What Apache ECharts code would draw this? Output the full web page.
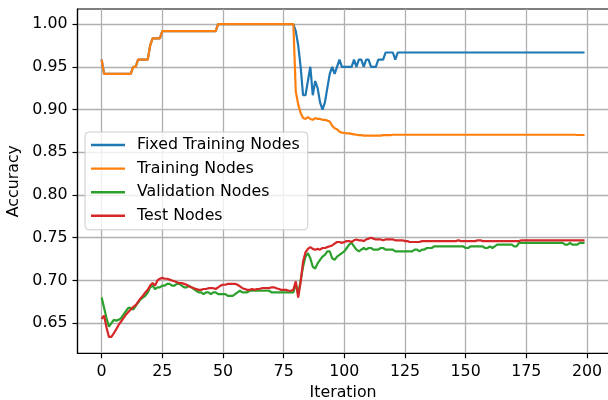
<!DOCTYPE html>
<html>
<head>
<meta charset="utf-8">
<script src="https://cdn.jsdelivr.net/npm/echarts@6/dist/echarts.min.js"></script>
<style>
  html, body { margin: 0; padding: 0; background: #fff; }
  #chart { width: 608px; height: 400px; }
</style>
</head>
<body>
<div id="chart"></div>
<script>
// accuracy per iteration
const fixedTrain = [
  0.9583, 0.9417, 0.9417, 0.9417, 0.9417, 0.9417, 0.9417, 0.9417, 0.9417, 0.9417, 0.9417, 0.9417, 0.9417, 0.95, 0.95, 0.9583, 0.9583, 0.9583, 0.9583, 0.9583,
  0.975, 0.9833, 0.9833, 0.9833, 0.9833, 0.9917, 0.9917, 0.9917, 0.9917, 0.9917, 0.9917, 0.9917, 0.9917, 0.9917, 0.9917, 0.9917, 0.9917, 0.9917, 0.9917, 0.9917,
  0.9917, 0.9917, 0.9917, 0.9917, 0.9917, 0.9917, 0.9917, 0.9917, 1, 1, 1, 1, 1, 1, 1, 1, 1, 1, 1, 1,
  1, 1, 1, 1, 1, 1, 1, 1, 1, 1, 1, 1, 1, 1, 1, 1, 1, 1, 1, 1,
  0.9917, 0.975, 0.95, 0.9167, 0.9167, 0.9333, 0.95, 0.9167, 0.9333, 0.925, 0.9083, 0.9, 0.9083, 0.925, 0.9417, 0.95, 0.9417, 0.95, 0.9583, 0.95,
  0.95, 0.95, 0.95, 0.95, 0.9583, 0.95, 0.9583, 0.9583, 0.95, 0.9583, 0.9583, 0.95, 0.95, 0.95, 0.9583, 0.9583, 0.9583, 0.9667, 0.9667, 0.9667,
  0.9667, 0.9583, 0.9667, 0.9667, 0.9667, 0.9667, 0.9667, 0.9667, 0.9667, 0.9667, 0.9667, 0.9667, 0.9667, 0.9667, 0.9667, 0.9667, 0.9667, 0.9667, 0.9667, 0.9667,
  0.9667, 0.9667, 0.9667, 0.9667, 0.9667, 0.9667, 0.9667, 0.9667, 0.9667, 0.9667, 0.9667, 0.9667, 0.9667, 0.9667, 0.9667, 0.9667, 0.9667, 0.9667, 0.9667, 0.9667,
  0.9667, 0.9667, 0.9667, 0.9667, 0.9667, 0.9667, 0.9667, 0.9667, 0.9667, 0.9667, 0.9667, 0.9667, 0.9667, 0.9667, 0.9667, 0.9667, 0.9667, 0.9667, 0.9667, 0.9667,
  0.9667, 0.9667, 0.9667, 0.9667, 0.9667, 0.9667, 0.9667, 0.9667, 0.9667, 0.9667, 0.9667, 0.9667, 0.9667, 0.9667, 0.9667, 0.9667, 0.9667, 0.9667, 0.9667, 0.9667
]
const trainAcc = [
  0.9583, 0.9417, 0.9417, 0.9417, 0.9417, 0.9417, 0.9417, 0.9417, 0.9417, 0.9417, 0.9417, 0.9417, 0.9417, 0.95, 0.95, 0.9583, 0.9583, 0.9583, 0.9583, 0.9583,
  0.975, 0.9833, 0.9833, 0.9833, 0.9833, 0.9917, 0.9917, 0.9917, 0.9917, 0.9917, 0.9917, 0.9917, 0.9917, 0.9917, 0.9917, 0.9917, 0.9917, 0.9917, 0.9917, 0.9917,
  0.9917, 0.9917, 0.9917, 0.9917, 0.9917, 0.9917, 0.9917, 0.9917, 1, 1, 1, 1, 1, 1, 1, 1, 1, 1, 1, 1,
  1, 1, 1, 1, 1, 1, 1, 1, 1, 1, 1, 1, 1, 1, 1, 1, 1, 1, 1, 1,
  0.921, 0.906, 0.896, 0.890, 0.889, 0.891, 0.889, 0.888, 0.890, 0.889, 0.889, 0.888, 0.888, 0.887, 0.886, 0.881, 0.878, 0.877, 0.874, 0.873,
  0.8725, 0.872, 0.872, 0.8715, 0.871, 0.8705, 0.870, 0.870, 0.8695, 0.8695, 0.8695, 0.8695, 0.8695, 0.8695, 0.8695, 0.8695, 0.870, 0.870, 0.870, 0.870,
  0.8705, 0.8705, 0.8705, 0.8705, 0.8705, 0.8705, 0.8705, 0.8705, 0.8705, 0.8705, 0.8705, 0.8705, 0.8705, 0.8705, 0.8705, 0.8705, 0.8705, 0.8705, 0.8705, 0.8705,
  0.8705, 0.8705, 0.8705, 0.8705, 0.8705, 0.8705, 0.8705, 0.8705, 0.8705, 0.8705, 0.8705, 0.8705, 0.8705, 0.8705, 0.8705, 0.8705, 0.8705, 0.8705, 0.8705, 0.8705,
  0.8705, 0.8705, 0.8705, 0.8705, 0.8705, 0.8705, 0.8705, 0.8705, 0.8705, 0.8705, 0.8705, 0.8705, 0.8705, 0.8705, 0.8705, 0.8705, 0.8705, 0.8705, 0.8705, 0.8705,
  0.8705, 0.8705, 0.8705, 0.8705, 0.8705, 0.8705, 0.8705, 0.8705, 0.8705, 0.8705, 0.8705, 0.8705, 0.8705, 0.8705, 0.8705, 0.8705, 0.8702, 0.8702, 0.8702, 0.8702
]
const valAcc = [
  0.680, 0.668, 0.656, 0.646, 0.650, 0.654, 0.653, 0.654, 0.656, 0.660, 0.664, 0.668, 0.668, 0.666, 0.670, 0.674, 0.678, 0.680, 0.682, 0.686,
  0.692, 0.694, 0.690, 0.692, 0.692, 0.694, 0.694, 0.696, 0.696, 0.694, 0.694, 0.696, 0.696, 0.694, 0.692, 0.692, 0.694, 0.692, 0.690, 0.688,
  0.686, 0.686, 0.684, 0.686, 0.686, 0.684, 0.686, 0.686, 0.684, 0.684, 0.684, 0.684, 0.682, 0.682, 0.682, 0.684, 0.686, 0.688, 0.686, 0.686,
  0.686, 0.688, 0.688, 0.688, 0.688, 0.688, 0.688, 0.688, 0.688, 0.688, 0.686, 0.686, 0.686, 0.686, 0.686, 0.686, 0.686, 0.686, 0.686, 0.686,
  0.696, 0.684, 0.700, 0.716, 0.728, 0.732, 0.726, 0.716, 0.714, 0.720, 0.724, 0.728, 0.730, 0.734, 0.734, 0.726, 0.724, 0.728, 0.730, 0.732,
  0.734, 0.738, 0.742, 0.744, 0.740, 0.736, 0.734, 0.736, 0.738, 0.736, 0.738, 0.738, 0.736, 0.736, 0.736, 0.738, 0.738, 0.736, 0.736, 0.736,
  0.736, 0.734, 0.734, 0.734, 0.734, 0.734, 0.734, 0.734, 0.734, 0.736, 0.736, 0.734, 0.736, 0.736, 0.738, 0.738, 0.738, 0.740, 0.740, 0.740,
  0.740, 0.740, 0.740, 0.740, 0.740, 0.740, 0.740, 0.740, 0.740, 0.740, 0.738, 0.738, 0.740, 0.740, 0.740, 0.740, 0.740, 0.740, 0.738, 0.738,
  0.740, 0.738, 0.740, 0.742, 0.742, 0.742, 0.742, 0.742, 0.742, 0.742, 0.740, 0.740, 0.744, 0.744, 0.744, 0.744, 0.744, 0.744, 0.744, 0.744,
  0.744, 0.744, 0.744, 0.744, 0.744, 0.744, 0.744, 0.744, 0.744, 0.744, 0.744, 0.742, 0.742, 0.744, 0.742, 0.742, 0.742, 0.744, 0.744, 0.744
]
const testAcc = [
  0.655, 0.659, 0.645, 0.634, 0.634, 0.638, 0.643, 0.648, 0.652, 0.656, 0.660, 0.663, 0.666, 0.669, 0.671, 0.675, 0.679, 0.682, 0.686, 0.689,
  0.694, 0.697, 0.694, 0.700, 0.702, 0.703, 0.702, 0.702, 0.701, 0.700, 0.699, 0.698, 0.697, 0.697, 0.696, 0.695, 0.693, 0.692, 0.691, 0.690,
  0.689, 0.689, 0.690, 0.690, 0.691, 0.691, 0.691, 0.690, 0.692, 0.694, 0.695, 0.695, 0.696, 0.696, 0.696, 0.696, 0.695, 0.693, 0.691, 0.690,
  0.689, 0.689, 0.690, 0.689, 0.690, 0.690, 0.691, 0.691, 0.691, 0.691, 0.692, 0.692, 0.691, 0.690, 0.689, 0.689, 0.689, 0.688, 0.688, 0.689,
  0.699, 0.680, 0.698, 0.722, 0.733, 0.737, 0.739, 0.737, 0.736, 0.737, 0.736, 0.738, 0.738, 0.739, 0.740, 0.741, 0.743, 0.745, 0.745, 0.744,
  0.745, 0.746, 0.746, 0.745, 0.747, 0.748, 0.747, 0.747, 0.746, 0.748, 0.749, 0.750, 0.749, 0.748, 0.748, 0.748, 0.747, 0.748, 0.748, 0.748,
  0.748, 0.747, 0.747, 0.747, 0.747, 0.746, 0.746, 0.745, 0.745, 0.745, 0.745, 0.745, 0.746, 0.746, 0.746, 0.746, 0.746, 0.746, 0.746, 0.746,
  0.746, 0.746, 0.746, 0.746, 0.746, 0.746, 0.746, 0.747, 0.746, 0.746, 0.746, 0.746, 0.746, 0.746, 0.746, 0.747, 0.747, 0.746, 0.746, 0.746,
  0.746, 0.746, 0.746, 0.746, 0.746, 0.746, 0.746, 0.746, 0.746, 0.746, 0.746, 0.746, 0.746, 0.747, 0.747, 0.747, 0.747, 0.747, 0.747, 0.747,
  0.747, 0.747, 0.747, 0.747, 0.747, 0.747, 0.747, 0.747, 0.747, 0.747, 0.747, 0.747, 0.747, 0.747, 0.747, 0.747, 0.747, 0.747, 0.747, 0.747
]

const seriesNames = ['Fixed Training Nodes', 'Training Nodes', 'Validation Nodes', 'Test Nodes']
const seriesColors = ['#1f77b4', '#ff7f0e', '#2ca02c', '#d62728']
const xTicks = [0, 25, 50, 75, 100, 125, 150, 175, 200]
const yTicks = [0.65, 0.70, 0.75, 0.80, 0.85, 0.90, 0.95, 1.00]

const font = 'DejaVu Sans'
const fontSize = 15.8
const allSeries = [fixedTrain, trainAcc, valAcc, testAcc]

const chart = echarts.init(document.getElementById('chart'), null, { renderer: 'canvas' })

chart.setOption({
  animation: false,
  backgroundColor: '#fff',
  textStyle: { fontFamily: font },
  grid: {
    left: 77.5,
    right: -0.7,
    top: 9,
    bottom: 46.7,
    show: true,
    borderColor: '#000',
    borderWidth: 1.2,
    containLabel: false,
    outerBoundsMode: 'none'
  },
  legend: {
    orient: 'vertical',
    left: 85,
    top: 132,
    icon: 'rect',
    itemWidth: 34,
    itemHeight: 2.4,
    itemGap: 7.6,
    padding: [5, 8, 6, 6],
    backgroundColor: 'rgba(255,255,255,0.8)',
    borderColor: '#cccccc',
    borderWidth: 1,
    borderRadius: 4,
    textStyle: {
      fontFamily: font,
      fontSize: fontSize,
      color: '#000',
      lineHeight: 16,
      padding: [0, 0, 0, 7]
    },
    data: seriesNames
  },
  xAxis: {
    type: 'value',
    min: -9.95,
    max: 208.95,
    name: 'Iteration',
    nameLocation: 'middle',
    nameGap: 30,
    nameTextStyle: { fontFamily: font, fontSize: fontSize, color: '#000', lineHeight: 16 },
    axisLine: { show: true, onZero: false, lineStyle: { color: '#000', width: 1.2 } },
    axisTick: { show: true, inside: false, length: 5, lineStyle: { color: '#000', width: 1.2 }, customValues: xTicks },
    axisLabel: {
      fontFamily: font, fontSize: fontSize, color: '#000', margin: 11, lineHeight: 16,
      customValues: xTicks
    },
    splitLine: { show: true, lineStyle: { color: '#b0b0b0', width: 1.3 } }
  },
  yAxis: {
    type: 'value',
    min: 0.6148,
    max: 1.0176,
    name: 'Accuracy',
    nameLocation: 'middle',
    nameGap: 48,
    nameRotate: 90,
    nameTextStyle: { fontFamily: font, fontSize: fontSize, color: '#000', lineHeight: 16 },
    axisLine: { show: true, onZero: false, lineStyle: { color: '#000', width: 1.2 } },
    axisTick: { show: true, inside: false, length: 5, lineStyle: { color: '#000', width: 1.2 }, customValues: yTicks },
    axisLabel: {
      fontFamily: font, fontSize: fontSize, color: '#000', margin: 10,
      customValues: yTicks,
      formatter: v => v.toFixed(2)
    },
    splitLine: { show: true, lineStyle: { color: '#b0b0b0', width: 1.3 } }
  },
  series: allSeries.map((vals, k) => ({
    name: seriesNames[k],
    type: 'line',
    symbol: 'none',
    smooth: false,
    color: seriesColors[k],
    lineStyle: { width: 2.2, color: seriesColors[k] },
    z: 2 + k,
    data: vals.map((v, i) => [i, v])
  }))
})
</script>
</body>
</html>
